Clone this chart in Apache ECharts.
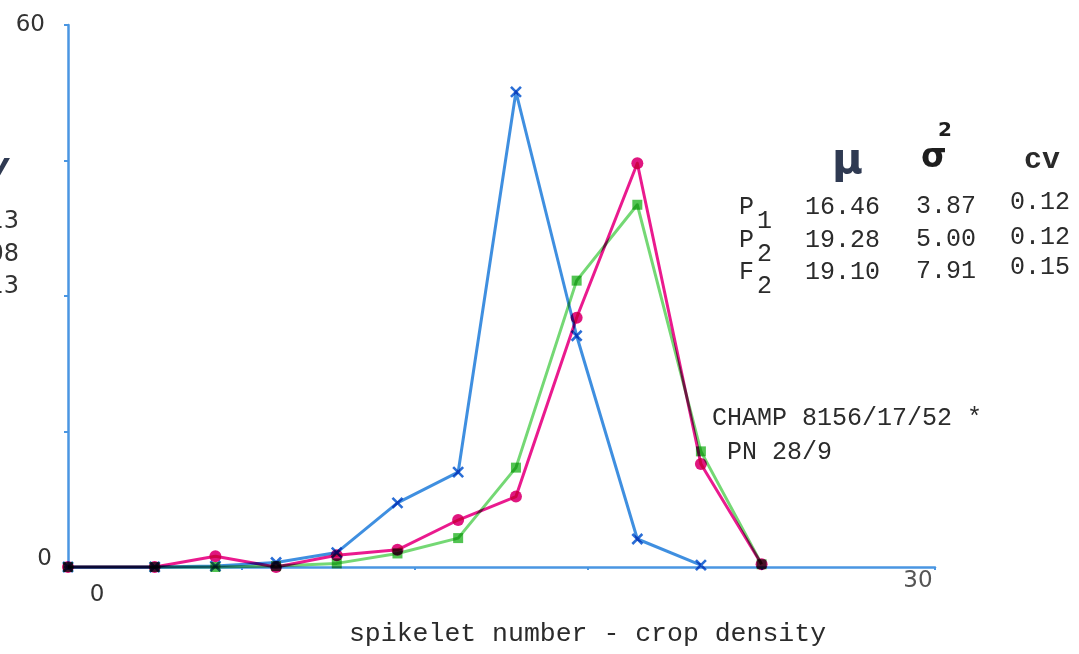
<!DOCTYPE html>
<html>
<head>
<meta charset="utf-8">
<title>Spikelet number - crop density</title>
<script src="https://cdn.jsdelivr.net/npm/echarts@6/dist/echarts.min.js"></script>
<style>
  html, body { margin: 0; padding: 0; background: #ffffff; }
  #chart { width: 1079px; height: 654px; }
</style>
</head>
<body>
<div id="chart"></div>
<script>
// Spikelet number classes (x) and frequencies of the three populations (y)
const spikelets = [0, 3, 5.1, 7.2, 9.3, 11.4, 13.5, 15.5, 17.6, 19.7, 21.9, 24];
const p1Freq = [0, 0, 0.1, 0.5, 1.6, 7.1, 10.5, 52.6, 25.6, 3.1, 0.2];
const p2Freq = [0, 0, 1.2, 0, 1.3, 1.9, 5.2, 7.8, 27.6, 44.7, 11.4, 0.3];
const f2Freq = [0, 0, 0, 0.1, 0.4, 1.5, 3.2, 11.0, 31.7, 40.1, 12.8, 0.3];

// Summary statistics table
const statRows = ['P', 'P', 'F'];
const statSubs = ['1', '2', '2'];
const statMean = ['16.46', '19.28', '19.10'];
const statVar = ['3.87', '5.00', '7.91'];
const statCv = ['0.12', '0.12', '0.15'];
const partialCv = ['0.13', '0.08', '0.13'];

const axisBlue = '#4a96e2';
const mono = '"Liberation Mono", "DejaVu Sans Mono", monospace';
const sans = '"DejaVu Sans", "Liberation Sans", sans-serif';

function pairs(ys) {
  return ys.map((y, i) => [spikelets[i], y]);
}

// One custom series per population: a polyline through all points plus markers,
// drawn with multiply blending so overlapping marks darken.
function popSeries(name, ys, color, markerColor, marker) {
  const data = pairs(ys);
  return {
    type: 'custom',
    name: name,
    data: data,
    clip: false,
    renderItem: function (params, api) {
      if (params.dataIndex !== 0) return null;
      const pts = data.map(d => api.coord(d));
      const children = [{
        type: 'polyline',
        name: 'popmark',
        shape: { points: pts },
        style: { stroke: color, lineWidth: 3, fill: null, lineJoin: 'round', blend: 'multiply' }
      }];
      pts.forEach(p => {
        if (marker === 'cross') {
          children.push({
            type: 'path',
            name: 'popmark',
            shape: {
              pathData: 'M' + (p[0] - 5) + ' ' + (p[1] - 5) + 'L' + (p[0] + 5) + ' ' + (p[1] + 5) +
                        'M' + (p[0] + 5) + ' ' + (p[1] - 5) + 'L' + (p[0] - 5) + ' ' + (p[1] + 5)
            },
            style: { stroke: markerColor, lineWidth: 2.6, fill: null, blend: 'multiply' }
          });
        } else if (marker === 'circle') {
          children.push({
            type: 'circle',
            name: 'popmark',
            shape: { cx: p[0], cy: p[1], r: 6 },
            style: { fill: markerColor, blend: 'multiply' }
          });
        } else {
          children.push({
            type: 'rect',
            name: 'popmark',
            shape: { x: p[0] - 5, y: p[1] - 5, width: 10, height: 10 },
            style: { fill: markerColor, blend: 'multiply' }
          });
        }
      });
      return { type: 'group', children: children };
    }
  };
}

function txt(text, x, y, opts) {
  return {
    type: 'text',
    style: Object.assign({
      text: text, x: x, y: y,
      font: '25px ' + mono,
      fill: '#2b2b2b',
      textAlign: 'left',
      textVerticalAlign: 'middle'
    }, opts || {})
  };
}

const graphics = [];
// statistics table
const rowY = [207, 240, 272];
const cvY = [202, 237, 267];
statRows.forEach((r, i) => {
  graphics.push(txt(r, 739, rowY[i]));
  graphics.push(txt(statSubs[i], 757, rowY[i] + 14));
  graphics.push(txt(statMean[i], 805, rowY[i]));
  graphics.push(txt(statVar[i], 916, rowY[i] - 1));
  graphics.push(txt(statCv[i], 1010, cvY[i]));
  graphics.push(txt(partialCv[i], 19, rowY[i] + 15, { textAlign: 'right', font: '24px ' + sans, fill: '#333' }));
});
graphics.push(txt('\u03bc', 832, 162, { font: 'bold 42px ' + sans, fill: '#2f3a52' }));
graphics.push(txt('\u03c3', 921, 158, { font: 'bold 33px ' + sans, fill: '#1e1e1e' }));
graphics.push(txt('2', 938, 131, { font: 'bold 20px ' + sans, fill: '#1e1e1e' }));
graphics.push(txt('cv', 1024, 160, { font: 'bold 30px ' + mono, fill: '#2a2a2a' }));
graphics.push(txt('cv', 9, 168, { textAlign: 'right', font: 'bold italic 32px ' + sans, fill: '#2f3a52' }));
// cross identification
graphics.push(txt('CHAMP 8156/17/52 *', 712, 418));
graphics.push(txt('PN 28/9', 727, 452));

const option = {
  backgroundColor: '#ffffff',
  animation: false,
  grid: { left: 68, right: 144, top: 25, bottom: 87, outerBoundsMode: 'none', containLabel: false },
  xAxis: {
    type: 'value',
    min: 0, max: 30, interval: 6,
    name: 'spikelet number - crop density',
    nameLocation: 'middle',
    nameGap: 53,
    nameTextStyle: { fontFamily: mono, fontSize: 26.5, color: '#2b2b2b', padding: [0, 0, 0, 172] },
    axisLine: { lineStyle: { color: axisBlue, width: 2.5 } },
    axisTick: { show: true, length: 3, lineStyle: { color: axisBlue, width: 2 } },
    splitLine: { show: false },
    axisLabel: {
      margin: 3,
      formatter: v => v === 0 ? '{a|0}' : (v === 30 ? '{b|30}' : ''),
      rich: {
        a: { fontFamily: sans, fontSize: 23, color: '#333', padding: [14, 0, 0, 58] },
        b: { fontFamily: sans, fontSize: 23, color: '#555', padding: [0, 34, 0, 0] }
      }
    }
  },
  yAxis: {
    type: 'value',
    min: 0, max: 60, interval: 15,
    axisLine: { show: true, lineStyle: { color: axisBlue, width: 2.5 } },
    axisTick: { show: true, length: 4, lineStyle: { color: axisBlue, width: 2 } },
    splitLine: { show: false },
    axisLabel: {
      margin: 16,
      formatter: v => v === 0 ? '{a|0}' : (v === 60 ? '{b|60}' : ''),
      rich: {
        a: { fontFamily: sans, fontSize: 23, color: '#333', padding: [0, 0, 16, 0] },
        b: { fontFamily: sans, fontSize: 23, color: '#333', padding: [0, 7, 0, 0] }
      }
    }
  },
  series: [
    popSeries('F2', f2Freq, '#74d874', '#52c452', 'square'),
    popSeries('P2', p2Freq, '#ea1a8e', '#e0167f', 'circle'),
    popSeries('P1', p1Freq, '#3f8fe0', '#2a6ed6', 'cross')
  ],
  graphic: graphics
};

const chart = echarts.init(document.getElementById('chart'), null, { renderer: 'canvas' });
chart.setOption(option);

// make sure the population marks keep multiply blending once rendered
const zr = chart.getZr();
zr.storage.getDisplayList(true).forEach(el => {
  if (el.name === 'popmark' && el.style) {
    el.style.blend = 'multiply';
    el.markRedraw();
  }
});
zr.refreshImmediately();
</script>
</body>
</html>
